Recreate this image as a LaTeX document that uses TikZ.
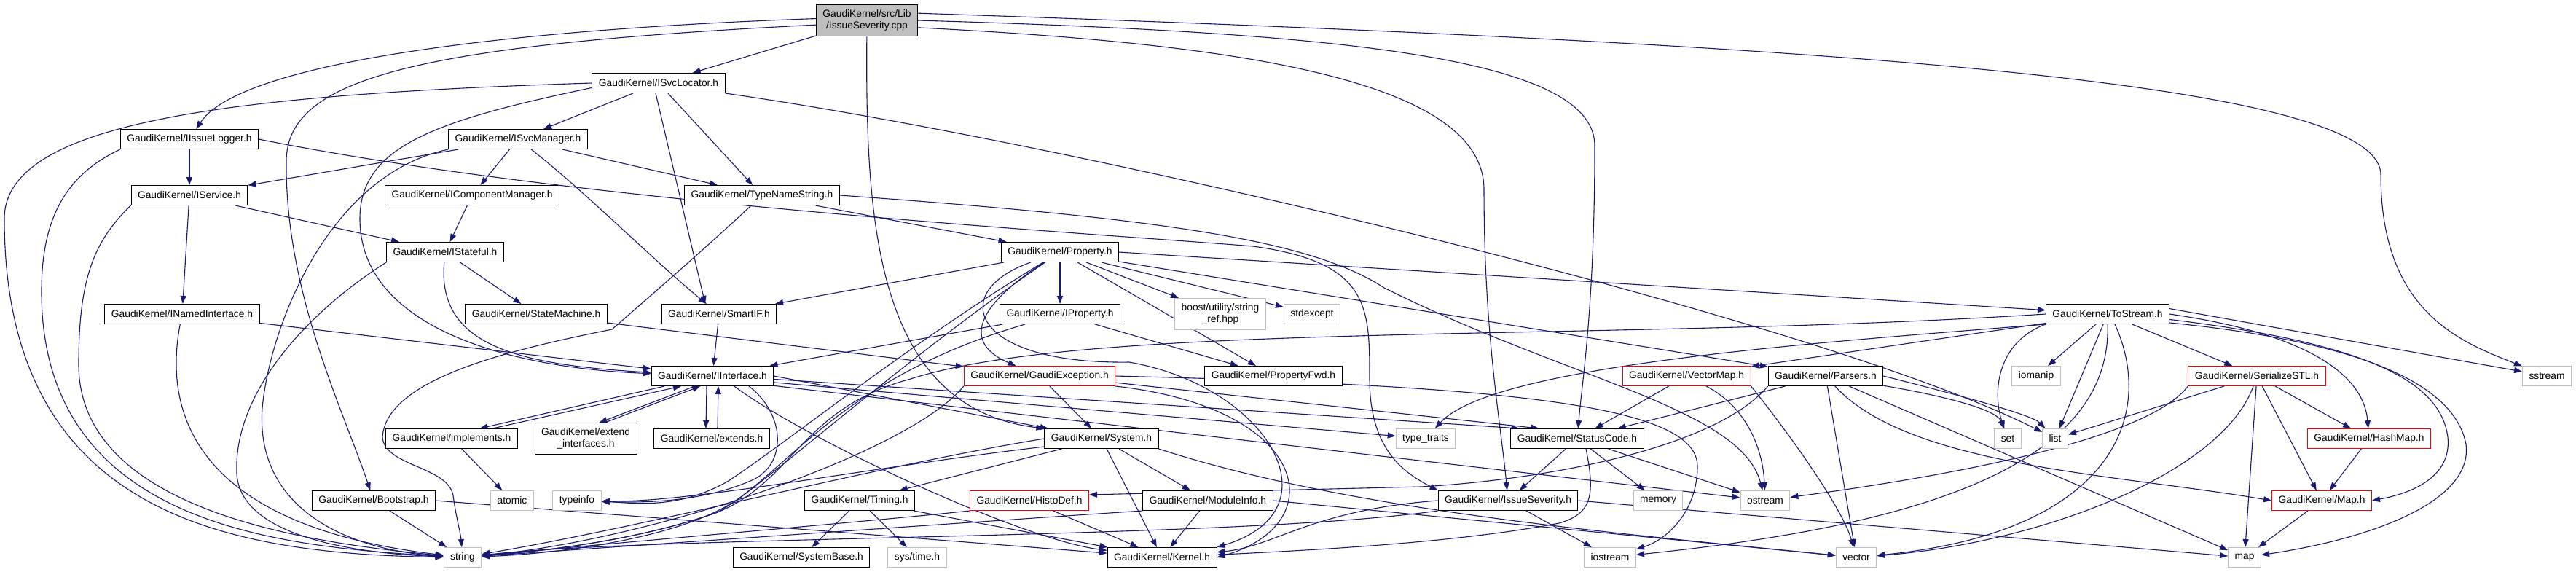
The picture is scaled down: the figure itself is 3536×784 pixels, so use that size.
\documentclass[tikz,border=0pt]{standalone}
\usepackage{fontspec}
\setmainfont{Liberation Sans}
\usetikzlibrary{arrows.meta,calc}
\definecolor{edgec}{HTML}{191970}
\definecolor{sysc}{HTML}{BFBFBF}
\pgfdeclarelayer{bg}
\pgfsetlayers{bg,main}
\begin{document}
\begin{tikzpicture}[x=0.5pt,y=-0.5pt,
 box/.style={draw=black,fill=white,line width=0.5pt,font=\fontsize{6.9}{8}\selectfont,inner xsep=4.5pt,inner ysep=0pt,minimum height=13.5pt,align=center},
 sbox/.style={box,draw=sysc},
 rbox/.style={box,draw=red},
 tbox/.style={box,minimum height=21.5pt},
 e/.style={draw=edgec,line width=0.55pt,-{Triangle[length=5.5pt,width=4pt]}}]
\useasboundingbox (0,0) rectangle (3536,784);
% nodes
\node[tbox,fill=sysc] (main) at (1190,28) {GaudiKernel/src/Lib\\/IssueSeverity.cpp};
\node[box] (svcloc) at (904,114) {GaudiKernel/ISvcLocator.h};
\node[box] (isslog) at (260,191) {GaudiKernel/IIssueLogger.h};
\node[box] (svcman) at (711,191) {GaudiKernel/ISvcManager.h};
\node[box] (iservice) at (260,268) {GaudiKernel/IService.h};
\node[box] (icompman) at (648,268) {GaudiKernel/IComponentManager.h};
\node[box] (typename) at (1046,268) {GaudiKernel/TypeNameString.h};
\node[box] (istateful) at (611,346) {GaudiKernel/IStateful.h};
\node[box] (property) at (1455,346) {GaudiKernel/Property.h};
\node[box] (inamed) at (250,431) {GaudiKernel/INamedInterface.h};
\node[box] (statem) at (736,431) {GaudiKernel/StateMachine.h};
\node[box] (smartif) at (987,431) {GaudiKernel/SmartIF.h};
\node[box] (iproperty) at (1455,431) {GaudiKernel/IProperty.h};
\node[sbox,minimum height=21.5pt] (boost) at (1675,431) {boost/utility/string\\\_ref.hpp};
\node[sbox] (stdexcept) at (1801,431) {stdexcept};
\node[box] (tostream) at (2893,431) {GaudiKernel/ToStream.h};
\node[box] (iinterface) at (978,516) {GaudiKernel/IInterface.h};
\node[rbox] (gexcept) at (1427,516) {GaudiKernel/GaudiException.h};
\node[box] (propfwd) at (1748,516) {GaudiKernel/PropertyFwd.h};
\node[rbox] (vectormap) at (2315,516) {GaudiKernel/VectorMap.h};
\node[box] (parsers) at (2506,516) {GaudiKernel/Parsers.h};
\node[sbox] (iomanip) at (2795,516) {iomanip};
\node[rbox] (serialize) at (3098,516) {GaudiKernel/SerializeSTL.h};
\node[sbox] (sstream) at (3496,516) {sstream};
\node[box] (implements) at (620,602) {GaudiKernel/implements.h};
\node[tbox] (extendif) at (804,602) {GaudiKernel/extend\\\_interfaces.h};
\node[box] (extends) at (977,602) {GaudiKernel/extends.h};
\node[sbox] (typetraits) at (1957,602) {type\_traits};
\node[box] (system) at (1512,602) {GaudiKernel/System.h};
\node[box] (statuscode) at (2165,602) {GaudiKernel/StatusCode.h};
\node[sbox] (set) at (2756,602) {set};
\node[sbox] (list) at (2821,602) {list};
\node[rbox] (hashmap) at (3252,602) {GaudiKernel/HashMap.h};
\node[box] (bootstrap) at (513,687) {GaudiKernel/Bootstrap.h};
\node[sbox] (atomic) at (703,687) {atomic};
\node[sbox] (typeinfo) at (792,687) {typeinfo};
\node[box] (timing) at (1180,687) {GaudiKernel/Timing.h};
\node[rbox] (histodef) at (1413,687) {GaudiKernel/HistoDef.h};
\node[box] (moduleinfo) at (1658,687) {GaudiKernel/ModuleInfo.h};
\node[box] (issuesev) at (2070,687) {GaudiKernel/IssueSeverity.h};
\node[sbox] (memory) at (2276,687) {memory};
\node[sbox] (ostream) at (2423,687) {ostream};
\node[rbox] (mapH) at (3187,687) {GaudiKernel/Map.h};
\node[sbox] (string) at (635,765) {string};
\node[box] (systembase) at (1100,765) {GaudiKernel/SystemBase.h};
\node[sbox] (systime) at (1259,765) {sys/time.h};
\node[box] (kernel) at (1595,765) {GaudiKernel/Kernel.h};
\node[sbox] (iostream) at (2210,765) {iostream};
\node[sbox] (vector) at (2548,765) {vector};
\node[sbox] (map) at (3081,765) {map};
\begin{pgfonlayer}{bg}
% main
\draw[e] (main) -- (svcloc);
\draw[e] (main.178) .. controls (700,40) and (330,85) .. (isslog);
\draw[e] (main.185) .. controls (560,62) and (395,110) .. (393,220) .. controls (391,400) and (470,560) .. (bootstrap);
\draw[e] (main) .. controls (1188,300) and (1200,560) .. (system.north west);
\draw[e] (main.-8) .. controls (1700,60) and (2037,110) .. (2037,260) .. controls (2037,460) and (2060,580) .. (issuesev);
\draw[e] (main.0) .. controls (1850,45) and (2189,80) .. (2189,200) .. controls (2189,420) and (2172,520) .. (statuscode);
\draw[e] (main.8) .. controls (2500,60) and (3268,110) .. (3268,240) .. controls (3268,430) and (3380,470) .. (sstream);
% svcloc
\draw[e] (svcloc.west) .. controls (300,130) and (6,170) .. (6,300) .. controls (6,700) and (300,760) .. (string);
\draw[e] (svcloc) -- (svcman);
\draw[e] (svcloc.-176) .. controls (600,165) and (494,200) .. (494,300) .. controls (494,450) and (700,505) .. (iinterface);
\draw[e] ($(svcloc.south)+(-4,0)$) -- ($(smartif.north)+(-19,0)$);
\draw[e] (svcloc) -- (typename);
\draw[e] (svcloc.south east) .. controls (1500,200) and (2500,440) .. (list);
% isslog
\draw[e] (isslog) -- (iservice);
\draw[e] (isslog.south west) .. controls (90,240) and (57,300) .. (57,400) .. controls (57,720) and (380,750) .. (string);
\draw[e] (isslog.east) .. controls (800,280) and (1500,320) .. (1720,338) .. controls (1880,360) and (1880,420) .. (1880,520) .. controls (1880,620) and (1930,650) .. (issuesev.north west);
% svcman
\draw[e] (svcman) -- (iservice);
\draw[e] (svcman) -- (icompman);
\draw[e] (svcman) -- (typename);
\draw[e] (svcman.south west) .. controls (450,240) and (370,450) .. (360,560) .. controls (350,700) and (480,755) .. (string);
\draw[e] (svcman) .. controls (800,260) and (900,360) .. (smartif);
% iservice
\draw[e] (iservice) -- (istateful);
\draw[e] (iservice) -- (inamed);
\draw[e] (iservice.south west) .. controls (130,330) and (108,380) .. (108,500) .. controls (108,700) and (420,745) .. (string);
\draw[e] (icompman) -- (istateful);
% typename
\draw[e] (typename) -- (property);
\draw[e] (typename) .. controls (980,330) and (900,400) .. (840,452) .. controls (700,480) and (530,520) .. (525,600) .. controls (528,640) and (615,640) .. (622,680) .. controls (626,710) and (632,730) .. (string);
\draw[e] (typename.east) .. controls (1600,300) and (1800,330) .. (1900,395) .. controls (2150,520) and (2390,560) .. (ostream);
% istateful
\draw[e] (istateful) .. controls (600,470) and (700,500) .. (iinterface);
\draw[e] (istateful) -- (statem);
\draw[e] (istateful.south west) .. controls (420,430) and (320,540) .. (325,650) .. controls (330,740) and (500,760) .. (string);
% inamed, statem, smartif
\draw[e] (inamed) -- (iinterface);
\draw[e] (inamed) .. controls (225,560) and (260,720) .. (string);
\draw[e] (statem) -- (gexcept);
\draw[e] (smartif) -- (iinterface);
% property
\draw[e] (property) -- (smartif);
\draw[e] (property) -- (iproperty);
\draw[e] (property) -- (boost);
\draw[e] (property) -- (stdexcept);
\draw[e] (property) -- (propfwd);
\draw[e] (property.east) -- (tostream);
\draw[e] (property) -- (parsers);
\draw[e] (property) .. controls (1250,470) and (1090,600) .. (1000,660) .. controls (930,700) and (870,690) .. (typeinfo);
\draw[e] (property) .. controls (1260,480) and (1100,620) .. (1020,680) .. controls (940,740) and (760,760) .. (string);
\draw[e] (property) .. controls (1300,400) and (1330,500) .. (1550,497) .. controls (1740,530) and (1840,700) .. (kernel.north east);
\draw[e] (property) .. controls (1340,420) and (1320,470) .. (gexcept);
% iproperty
\draw[e] (iproperty) -- (iinterface);
\draw[e] (iproperty) .. controls (1150,520) and (1080,650) .. (985,703) .. controls (880,740) and (760,755) .. (string);
\draw[e] (iproperty) -- (propfwd);
% iinterface
\draw[e] (iinterface.-168) -- (implements.20);
\draw[e] (implements.14) -- (iinterface.-162);
\draw[e] (iinterface.-150) -- (extendif.50);
\draw[e] (extendif.40) -- (iinterface.-140);
\draw[e] ($(iinterface.south)+(-8,0)$) -- ($(extends.north)+(-8,0)$);
\draw[e] ($(extends.north)+(8,0)$) -- ($(iinterface.south)+(8,0)$);
\draw[e] (iinterface.east) -- (system);
\draw[e] (iinterface.-3) -- (statuscode.170);
\draw[e] (iinterface.-6) -- (typetraits);
\draw[e] (iinterface.-9) -- (ostream);
\draw[e] ($(iinterface.south)+(30,0)$) .. controls (1100,600) and (1400,740) .. (kernel);
\draw[e] ($(iinterface.south)+(50,0)$) .. controls (1080,570) and (1080,640) .. (1030,660) .. controls (960,690) and (880,690) .. (typeinfo);
% gexcept
\draw[e] (gexcept) -- (system);
\draw[e] (gexcept.south west) .. controls (1250,620) and (900,740) .. (string);
\draw[e] (gexcept.south east) .. controls (1800,560) and (1830,720) .. (kernel.east);
\draw[e] (gexcept.-5) -- (statuscode.165);
\draw[e] (gexcept.east) .. controls (2100,530) and (2330,560) .. (2330,640) .. controls (2330,700) and (2290,740) .. (iostream);
% system
\draw[e] (system) -- (timing);
\draw[e] (system) -- (moduleinfo);
\draw[e] (system) -- (kernel);
\draw[e] (system.south east) .. controls (1850,700) and (2200,730) .. (vector);
\draw[e] (system.west) .. controls (1200,640) and (900,720) .. (string);
\draw[e] (system.-172) .. controls (1200,640) and (950,690) .. (typeinfo);
% timing, histodef, moduleinfo, bootstrap, implements
\draw[e] (timing) -- (systembase);
\draw[e] (timing) -- (systime);
\draw[e] (timing) -- (kernel);
\draw[e] (histodef) -- (kernel);
\draw[e] (histodef.south west) .. controls (1200,715) and (900,740) .. (string);
\draw[e] (moduleinfo) -- (kernel);
\draw[e] (moduleinfo.south west) .. controls (1400,712) and (1000,740) .. (string);
\draw[e] (moduleinfo.east) -- (vector);
\draw[e] (bootstrap) -- (string);
\draw[e] (bootstrap.east) -- (kernel);
\draw[e] (implements) -- (atomic);
% issuesev
\draw[e] (issuesev) -- (iostream);
\draw[e] (issuesev.west) .. controls (1800,700) and (1750,750) .. (kernel);
\draw[e] (issuesev.east) -- (map);
\draw[e] (issuesev.south west) .. controls (1700,740) and (900,735) .. (string);
% statuscode
\draw[e] (statuscode) -- (issuesev);
\draw[e] (statuscode) -- (memory);
\draw[e] (statuscode) -- (ostream);
\draw[e] ($(statuscode.south)+(12,0)$) .. controls (2190,680) and (2185,705) .. (2140,718) .. controls (2000,745) and (1800,755) .. (kernel);
% vectormap
\draw[e] (vectormap) -- (statuscode);
\draw[e] (vectormap) .. controls (2400,560) and (2420,620) .. (ostream);
\draw[e] (vectormap.south east) .. controls (2460,600) and (2530,700) .. (vector);
% parsers
\draw[e] (parsers) -- (statuscode);
\draw[e] (parsers.south west) .. controls (2350,620) and (2100,660) .. (1950,668) -- ($(histodef.east)+(0,-8)$);
\draw[e] (parsers) -- (vector);
\draw[e] (parsers) .. controls (2650,540) and (2740,560) .. (set);
\draw[e] (parsers.east) .. controls (2700,545) and (2790,570) .. (list);
\draw[e] (parsers) -- (map);
\draw[e] (parsers) .. controls (2620,640) and (2900,650) .. (mapH.west);
% tostream
\draw[e] (tostream.south west) .. controls (2740,470) and (2735,540) .. (set);
\draw[e] (tostream) -- (iomanip);
\draw[e] (tostream) -- (list);
\draw[e] (tostream) -- (serialize);
\draw[e] (tostream.east) .. controls (3180,460) and (3245,520) .. (hashmap);
\draw[e] (tostream.-5) .. controls (3240,470) and (3350,520) .. (3360,600) .. controls (3365,650) and (3320,675) .. (mapH.east);
\draw[e] (tostream.-8) .. controls (3250,470) and (3370,530) .. (3385,610) .. controls (3395,690) and (3250,740) .. (map);
\draw[e] (tostream.5) -- (sstream);
\draw[e] (tostream) -- (vectormap);
\draw[e] (tostream.south west) .. controls (2500,470) and (2050,500) .. (typetraits);
\draw[e] (tostream.south) .. controls (2900,650) and (2600,725) .. (iostream);
\draw[e] ($(tostream.south)+(10,0)$) .. controls (2960,570) and (2900,730) .. (vector);
\draw[e] (tostream.west) .. controls (2200,470) and (1500,440) .. (1250,520) .. controls (1100,560) and (1090,660) .. (985,703) .. controls (880,740) and (760,755) .. (string);
% serialize
\draw[e] (serialize) -- (list);
\draw[e] (serialize.south west) .. controls (2950,600) and (2700,650) .. (ostream);
\draw[e] (serialize) .. controls (3050,650) and (2800,745) .. (vector);
\draw[e] (serialize) -- (map);
\draw[e] (serialize) -- (mapH);
\draw[e] (serialize) -- (hashmap);
\draw[e] (hashmap) -- (mapH);
\draw[e] (mapH) -- (map);
\end{pgfonlayer}
\end{tikzpicture}
\end{document}
